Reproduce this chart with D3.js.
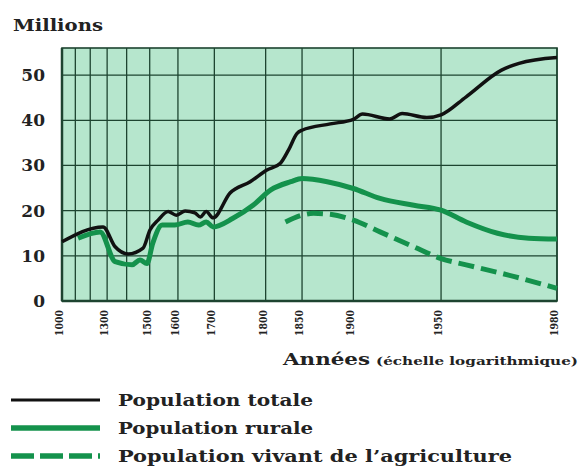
<!DOCTYPE html>
<html>
<head>
<meta charset="utf-8">
<script src="https://cdn.jsdelivr.net/npm/d3@7"></script>
<style>
  body { margin: 0; background: #fff; }
  svg { display: block; }
  text { font-family: "DejaVu Serif", "Liberation Serif", serif; fill: #222; }
</style>
</head>
<body>
<svg id="svg" width="581" height="468"></svg>
<script>
// years for vertical grid lines, and those that get a label
var gridYears = [1000, 1100, 1200, 1300, 1400, 1500, 1600, 1700, 1800, 1850, 1900, 1950, 1980];
var labelYears = [1000, 1300, 1500, 1600, 1700, 1800, 1850, 1900, 1950, 1980];
var yTicks = [0, 10, 20, 30, 40, 50];

var totalYears = [1000, 1277, 1343, 1407, 1473, 1501, 1532, 1568, 1595, 1622, 1650, 1665, 1680, 1697, 1735, 1774, 1802, 1822, 1833, 1844, 1850, 1880, 1900, 1907, 1925, 1932, 1944, 1950, 1959, 1969, 1973, 1980];
var totalValues = [13.1, 16.4, 12.0, 10.4, 11.7, 15.7, 17.9, 19.8, 19.0, 19.9, 19.5, 18.6, 19.8, 18.4, 23.9, 26.4, 29.0, 30.5, 33.4, 37.1, 37.8, 39.2, 40.2, 41.4, 40.3, 41.5, 40.6, 41.2, 45.2, 51.1, 52.6, 53.9];

var ruralYears = [1119, 1260, 1343, 1425, 1460, 1489, 1512, 1547, 1590, 1630, 1660, 1680, 1697, 1741, 1779, 1808, 1836, 1850, 1877, 1900, 1919, 1938, 1950, 1959, 1968, 1975, 1980];
var ruralValues = [13.9, 15.3, 8.7, 8.0, 9.1, 8.3, 12.8, 16.8, 16.8, 17.5, 16.8, 17.5, 16.4, 18.3, 21.2, 24.6, 26.4, 27.1, 26.4, 24.9, 22.7, 21.2, 20.1, 17.5, 15.0, 13.9, 13.7];

var agriYears = [1829, 1850, 1863, 1880, 1900, 1919, 1938, 1950, 1959, 1972, 1980];
var agriValues = [17.5, 19.0, 19.4, 19.2, 17.9, 15.3, 12.0, 9.4, 8.0, 5.4, 2.8];

var legendLabels = ["Population totale", "Population rurale", "Population vivant de l\u2019agriculture"];

var svg = d3.select("#svg");
var margin = {top: 48, left: 62, right: 24, bottom: 167};
var width = 581 - margin.left - margin.right;
var height = 468 - margin.top - margin.bottom;

// log scale on (2000 - year), so time runs left to right
var x = d3.scaleLog().domain([1000, 20]).range([0, width]);
var xs = function(yr) { return x(2000 - yr); };
var y = d3.scaleLinear().domain([0, 56]).range([height, 0]);

var bg = "#b6e6cd", gridCol = "#1d4430", green = "#14924c";

svg.append("text")
  .attr("x", 13).attr("y", 31)
  .style("font-size", "16px").style("font-weight", "bold")
  .attr("textLength", 90).attr("lengthAdjust", "spacingAndGlyphs")
  .text("Millions");

var g = svg.append("g")
  .attr("transform", "translate(" + margin.left + "," + margin.top + ")");

g.append("rect")
  .attr("width", width).attr("height", height)
  .attr("fill", bg);

g.append("g").selectAll("line")
  .data(yTicks.slice(1))
  .enter().append("line")
  .attr("x1", 0).attr("x2", width)
  .attr("y1", function(d) { return y(d); }).attr("y2", function(d) { return y(d); })
  .attr("stroke", gridCol).attr("stroke-width", 1.3);

g.append("g").selectAll("line")
  .data(gridYears)
  .enter().append("line")
  .attr("x1", function(d) { return xs(d); }).attr("x2", function(d) { return xs(d); })
  .attr("y1", 0).attr("y2", height)
  .attr("stroke", gridCol).attr("stroke-width", 1.3);

g.append("rect")
  .attr("width", width).attr("height", height)
  .attr("fill", "none").attr("stroke", gridCol).attr("stroke-width", 1.6);
g.append("line")
  .attr("x1", 0).attr("x2", 0).attr("y1", 0).attr("y2", height)
  .attr("stroke", gridCol).attr("stroke-width", 2.5);
g.append("line")
  .attr("x1", 0).attr("x2", width).attr("y1", height).attr("y2", height)
  .attr("stroke", gridCol).attr("stroke-width", 2.5);

// y labels
g.append("g").selectAll("text")
  .data(yTicks)
  .enter().append("text")
  .attr("x", -17).attr("y", function(d) { return y(d) + 6; })
  .attr("text-anchor", "end")
  .style("font-size", "17px").style("font-weight", "bold")
  .text(function(d) { return d; });

// x labels, rotated
g.append("g").selectAll("text")
  .data(labelYears)
  .enter().append("text")
  .attr("transform", function(d) { return "translate(" + (xs(d) + 1) + "," + (height + 9) + ") rotate(-90)"; })
  .attr("text-anchor", "end")
  .style("font-size", "11px").style("font-weight", "bold")
  .attr("textLength", 26).attr("lengthAdjust", "spacingAndGlyphs")
  .text(function(d) { return d; });

var line = d3.line()
  .x(function(d) { return xs(d[0]); })
  .y(function(d) { return y(d[1]); })
  .curve(d3.curveMonotoneX);

g.append("path")
  .datum(ruralYears.map(function(yr, i) { return [yr, ruralValues[i]]; }))
  .attr("d", line)
  .attr("fill", "none").attr("stroke", green).attr("stroke-width", 5)
  .attr("stroke-linejoin", "round");

g.append("path")
  .datum(agriYears.map(function(yr, i) { return [yr, agriValues[i]]; }))
  .attr("d", line)
  .attr("fill", "none").attr("stroke", green).attr("stroke-width", 5)
  .attr("stroke-dasharray", "16,7");

g.append("path")
  .datum(totalYears.map(function(yr, i) { return [yr, totalValues[i]]; }))
  .attr("d", line)
  .attr("fill", "none").attr("stroke", "#111").attr("stroke-width", 3.5)
  .attr("stroke-linejoin", "round");

// x axis title
svg.append("text")
  .attr("x", 283).attr("y", 365)
  .style("font-size", "17px").style("font-weight", "bold")
  .attr("textLength", 87).attr("lengthAdjust", "spacingAndGlyphs")
  .text("Années");
svg.append("text")
  .attr("x", 376).attr("y", 365)
  .style("font-size", "11px").style("font-weight", "bold")
  .attr("textLength", 202).attr("lengthAdjust", "spacingAndGlyphs")
  .text("(échelle logarithmique)");

// legend
var legendStyles = [
  {stroke: "#111", width: 3, dash: null, len: 195},
  {stroke: green, width: 5.5, dash: null, len: 195},
  {stroke: green, width: 5.5, dash: "23,6", len: 394}
];
var legend = svg.append("g").selectAll("g")
  .data(legendLabels)
  .enter().append("g")
  .attr("transform", function(d, i) { return "translate(0," + (400 + i * 28) + ")"; });

legend.append("line")
  .attr("x1", 11).attr("x2", 100)
  .attr("stroke", function(d, i) { return legendStyles[i].stroke; })
  .attr("stroke-width", function(d, i) { return legendStyles[i].width; })
  .attr("stroke-dasharray", function(d, i) { return legendStyles[i].dash; });

legend.append("text")
  .attr("x", 118).attr("y", 6)
  .style("font-size", "16px").style("font-weight", "600")
  .attr("textLength", function(d, i) { return legendStyles[i].len; })
  .attr("lengthAdjust", "spacingAndGlyphs")
  .text(function(d) { return d; });
</script>
</body>
</html>
